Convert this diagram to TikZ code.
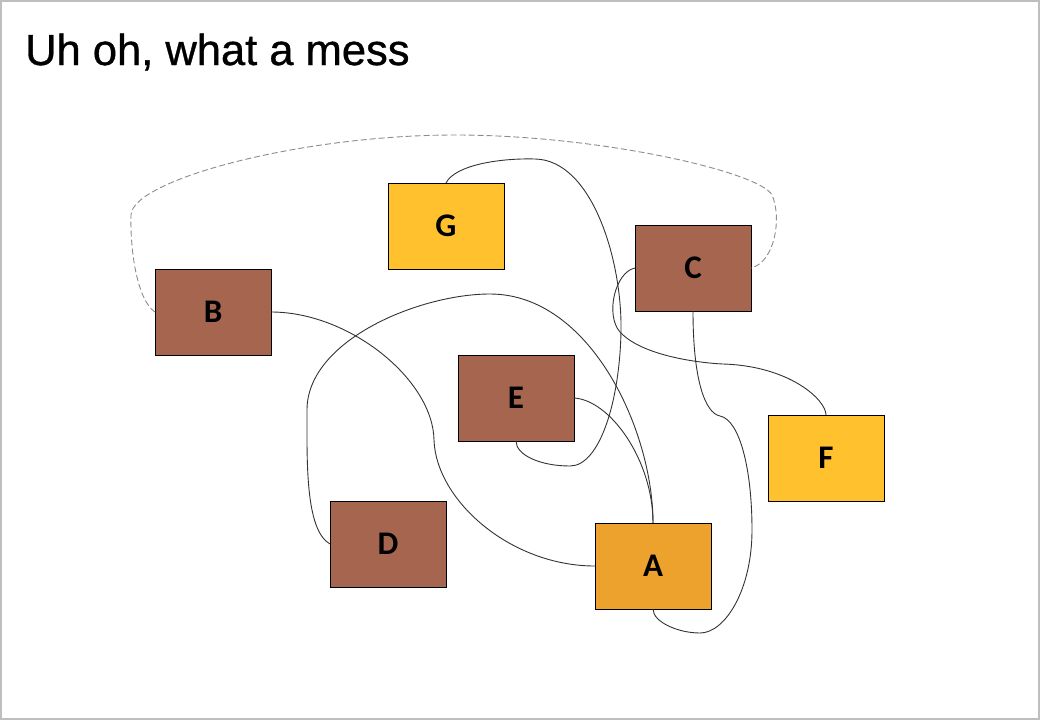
\documentclass[tikz,border=0pt]{standalone}
\usepackage{fontspec}
\setmainfont{Liberation Sans}
\newfontfamily\titlefont[FakeBold=0.8]{Liberation Sans}
\newfontfamily\boxfont{Carlito}
\begin{document}
\begin{tikzpicture}[x=1pt,y=-1pt,
  box/.style={draw=black,line width=1pt,minimum width=116pt,minimum height=86pt,inner sep=0pt,outer sep=0pt,font=\boxfont\fontsize{33}{33}\selectfont\bfseries,text=black},
  brown/.style={box,fill=brownfill},
  yel/.style={box,fill=yelfill},
  org/.style={box,fill=orgfill},
  conn/.style={draw=black!80,line width=0.9pt},
  dconn/.style={draw=black!45,line width=0.9pt,dash pattern=on 6pt off 3pt}]
\definecolor{brownfill}{RGB}{165,101,78}
\definecolor{yelfill}{RGB}{255,194,46}
\definecolor{orgfill}{RGB}{237,162,46}
\useasboundingbox (0,0) rectangle (1040,720);
\draw[black!25,line width=2pt] (1,1) rectangle (1039,719);
\node[anchor=base west,font=\titlefont\fontsize{43.5}{44}\selectfont,inner sep=0pt] (title) at (25,65) {Uh oh, what a mess};
\node[yel] (G) at (446,226) {G};
\node[brown] (C) at (693,268) {C};
\node[brown] (B) at (213,312) {B};
\node[brown] (E) at (516,398) {E};
\node[brown] (D) at (388,544) {D};
\node[org] (A) at (653,566) {A};
\node[yel] (F) at (826,458) {F};
% dashed B -> C
\draw[dconn] (B.west) .. controls (137,300) and (130,250) .. (131,215)
  .. controls (132,180) and (300,135) .. (455,135)
  .. controls (600,135) and (760,172) .. (772,195)
  .. controls (782,218) and (775,262) .. (C.east);
% G -> E
\draw[conn] (G.north) .. controls (455,165) and (500,158) .. (535,159)
  .. controls (592,160) and (622,260) .. (621,330)
  .. controls (620,400) and (600,466) .. (570,466)
  .. controls (540,466) and (516,455) .. (E.south);
% C -> F
\draw[conn] (C.west) .. controls (615,272) and (605,315) .. (620,332)
  .. controls (642,356) and (700,363) .. (723,364)
  .. controls (790,366) and (826,400) .. (F.north);
% C -> A
\draw[conn] (C.south) .. controls (693,380) and (705,413) .. (720,416)
  .. controls (740,420) and (752,470) .. (752,530)
  .. controls (752,590) and (725,633) .. (700,633)
  .. controls (678,633) and (653,622) .. (A.south);
% B -> A
\draw[conn] (B.east) .. controls (350,312) and (433,380) .. (434,440)
  .. controls (436,500) and (510,566) .. (A.west);
% D -> A
\draw[conn] (D.west) .. controls (305,530) and (307,460) .. (307,410)
  .. controls (307,340) and (420,294) .. (490,294)
  .. controls (590,294) and (653,430) .. (A.north);
% E -> A
\draw[conn] (E.east) .. controls (610,400) and (653,460) .. (A.north);
\end{tikzpicture}
\end{document}
